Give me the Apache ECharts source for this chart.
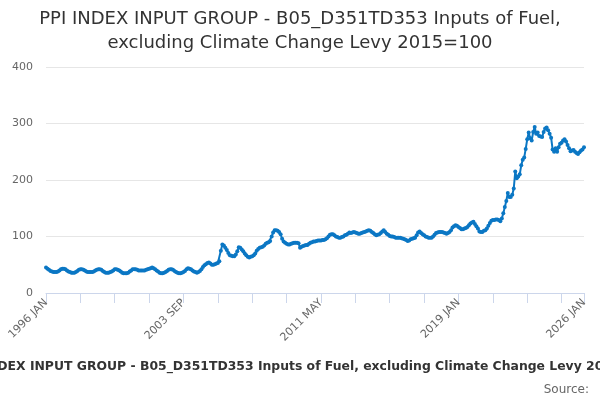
<!DOCTYPE html>
<html>
<head>
<meta charset="utf-8">
<script src="https://cdn.jsdelivr.net/npm/echarts@6/dist/echarts.min.js"></script>
<style>
html,body{margin:0;padding:0;background:#fff;}
#chart{width:600px;height:400px;}
</style>
</head>
<body>
<div id="chart"></div>
<script>
const titleText = 'PPI INDEX INPUT GROUP - B05_D351TD353 Inputs of Fuel,\nexcluding Climate Change Levy 2015=100';
const footerText = 'PPI INDEX INPUT GROUP - B05_D351TD353 Inputs of Fuel, excluding Climate Change Levy 2015=100';
const sourceText = 'Source:';
const startYear = 1996;
const monthNames = ['JAN','FEB','MAR','APR','MAY','JUN','JUL','AUG','SEP','OCT','NOV','DEC'];
const yTicks = [0, 100, 200, 300, 400];

// Monthly index values, 1996 JAN .. 2026 JAN
const values = [
  45,43,41,39,38,37,37,37,38,40,42,43,       // 1996
  43,42,40,38,37,36,36,36,37,39,41,42,       // 1997
  42,41,40,38,37,37,37,37,38,40,41,42,       // 1998
  42,41,39,37,36,36,36,37,38,40,42,42,       // 1999
  41,40,38,36,35,35,35,36,38,40,42,42,       // 2000
  42,41,40,40,40,40,40,41,42,43,44,45,       // 2001
  44,42,40,38,36,35,35,36,37,39,41,42,       // 2002
  42,41,39,37,36,35,35,36,37,39,42,44,       // 2003
  43,42,40,38,37,36,37,39,42,46,49,51,       // 2004
  53,54,52,50,50,51,52,53,56,75,86,84,       // 2005
  80,76,71,67,66,65,65,68,74,81,80,77,       // 2006
  74,70,67,64,63,64,65,67,70,75,78,80,       // 2007
  81,82,84,87,89,90,92,100,107,111,111,110,  // 2008
  108,104,96,91,89,87,86,86,87,88,89,89,     // 2009
  89,88,80,82,83,84,85,85,87,89,90,91,       // 2010
  91,92,93,93,93,94,94,95,97,100,103,104,    // 2011
  104,102,100,99,98,98,99,100,102,103,105,107, // 2012
  106,107,108,107,106,105,105,106,107,108,109,110, // 2013
  111,110,108,106,104,102,103,104,106,109,111,108, // 2014
  105,103,101,100,100,99,98,98,98,98,97,96,  // 2015
  95,94,92,93,95,96,97,98,102,107,109,106,   // 2016
  104,102,100,99,98,98,98,100,103,106,107,108, // 2017
  108,108,107,106,105,106,108,111,116,118,120,119, // 2018
  117,115,113,113,114,115,117,120,123,125,126,122, // 2019
  118,114,109,108,108,110,111,114,119,124,128,129, // 2020
  129,130,130,129,127,132,141,152,163,177,170,170, // 2021
  174,185,215,203,206,210,226,236,240,255,272,284, // 2022
  274,270,285,294,282,284,278,277,276,285,291,293, // 2023
  288,282,275,254,250,256,250,258,264,266,270,272, // 2024
  268,262,256,251,252,253,250,248,246,249,252,254, // 2025
  258                                          // 2026
];

const categories = values.map((v, i) => (startYear + Math.floor(i / 12)) + ' ' + monthNames[i % 12]);
const lastIdx = categories.length - 1;

const chart = echarts.init(document.getElementById('chart'), null, {renderer: 'canvas'});
chart.setOption({
  animation: false,
  backgroundColor: '#ffffff',
  title: {
    text: titleText,
    left: 'center',
    top: 2,
    textStyle: {
      fontFamily: 'DejaVu Sans',
      fontSize: 18,
      fontWeight: 'normal',
      color: '#333333',
      lineHeight: 24
    }
  },
  grid: {left: 46, right: 16, top: 67, bottom: 107, containLabel: false},
  xAxis: {
    type: 'category',
    data: categories,
    boundaryGap: false,
    axisLine: {lineStyle: {color: '#ccd6eb', width: 1}},
    axisTick: {
      length: 10,
      lineStyle: {color: '#ccd6eb'},
      interval: (idx) => idx % 23 === 0 || idx === lastIdx
    },
    axisLabel: {
      rotate: 45,
      color: '#666666',
      fontFamily: 'DejaVu Sans',
      fontSize: 11,
      margin: 8,
      interval: (idx) => idx % 92 === 0 || idx === lastIdx
    },
    splitLine: {show: false}
  },
  yAxis: {
    type: 'value',
    min: yTicks[0],
    max: yTicks[yTicks.length - 1],
    interval: 100,
    axisLine: {show: false},
    axisTick: {show: false},
    axisLabel: {color: '#666666', fontFamily: 'DejaVu Sans', fontSize: 11, margin: 13},
    splitLine: {lineStyle: {color: '#e6e6e6', width: 1}}
  },
  series: [{
    type: 'line',
    data: values,
    showSymbol: true,
    symbol: 'circle',
    symbolSize: 4,
    showAllSymbol: true,
    lineStyle: {color: '#0b77c4', width: 2},
    itemStyle: {color: '#0b77c4'},
    z: 3
  }],
  graphic: [
    {
      type: 'text',
      x: 306,
      y: 361,
      style: {
        text: footerText,
        font: 'bold 12.4px "DejaVu Sans"',
        fill: '#333333',
        textAlign: 'center',
        textVerticalAlign: 'top'
      }
    },
    {
      type: 'text',
      right: 11,
      top: 384,
      style: {
        text: sourceText,
        font: '12px "DejaVu Sans"',
        fill: '#666666'
      }
    }
  ]
});
</script>
</body>
</html>
